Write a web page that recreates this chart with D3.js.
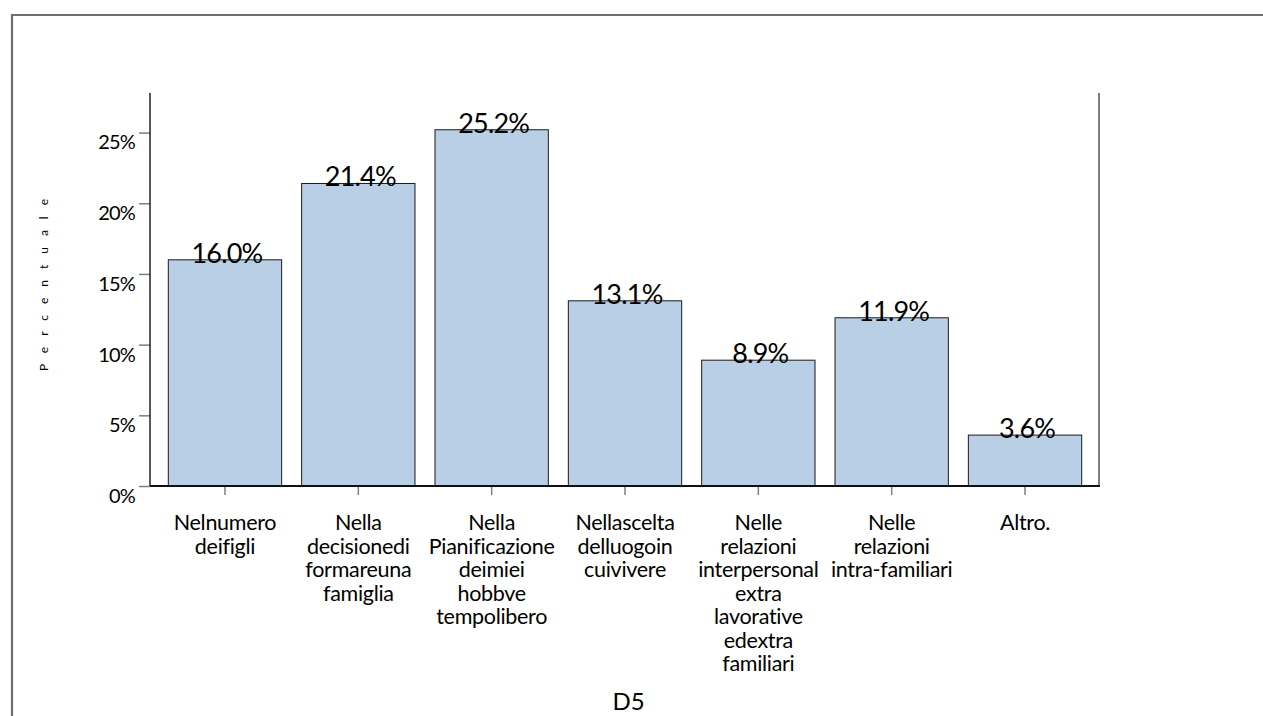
<!DOCTYPE html>
<html>
<head>
<meta charset="utf-8">
<script src="https://cdn.jsdelivr.net/npm/d3@7"></script>
<style>
  html, body { margin: 0; padding: 0; background: #fff; }
  svg { display: block; }
  text { font-family: Lato, "Open Sans", sans-serif; fill: #000; }
</style>
</head>
<body>
<svg id="chart" width="1263" height="716"></svg>
<script>
// D5 – distribution of answers (percent of respondents)
const categories = [
  ["Nelnumero", "deifigli"],
  ["Nella", "decisionedi", "formareuna", "famiglia"],
  ["Nella", "Pianificazione", "deimiei", "hobbve", "tempolibero"],
  ["Nellascelta", "delluogoin", "cuivivere"],
  ["Nelle", "relazioni", "interpersonal", "extra", "lavorative", "edextra", "familiari"],
  ["Nelle", "relazioni", "intra-familiari"],
  ["Altro."]
];
const values = [16.0, 21.4, 25.2, 13.1, 8.9, 11.9, 3.6];
const yTicks = [0, 5, 10, 15, 20, 25];
const yMax = 27.8;
const xTitle = "D5";
const yTitle = "Percentuale";

const svg = d3.select("#chart");

// outer chart frame (left and top edges)
svg.append("path")
  .attr("d", "M12,716 V15 H1263")
  .attr("fill", "none")
  .attr("stroke", "#6e6e6e")
  .attr("stroke-width", 2.2);

const plot = { left: 150, right: 1099, top: 93, bottom: 486 };

const x = d3.scaleBand()
  .domain(d3.range(categories.length))
  .range([158.3, 1091.7])
  .paddingInner(0.15)
  .paddingOuter(0.075);

const y = d3.scaleLinear()
  .domain([0, yMax])
  .range([plot.bottom, plot.top]);

// bars
svg.append("g").selectAll("rect")
  .data(values)
  .join("rect")
  .attr("x", (d, i) => x(i))
  .attr("y", d => y(d))
  .attr("width", x.bandwidth())
  .attr("height", d => y(0) - y(d))
  .attr("fill", "#b9cfe6")
  .attr("stroke", "#1a1a1a")
  .attr("stroke-width", 1);

// right frame line of the plot area
svg.append("line")
  .attr("x1", plot.right).attr("x2", plot.right)
  .attr("y1", plot.top).attr("y2", plot.bottom)
  .attr("stroke", "#555").attr("stroke-width", 1.5);

// y axis
const yAxis = svg.append("g")
  .attr("transform", `translate(${plot.left},0)`)
  .call(d3.axisLeft(y).tickValues(yTicks).tickSize(11).tickFormat(d => d + "%"));
yAxis.select(".domain").remove();
yAxis.selectAll(".tick line").attr("stroke", "#808080").attr("stroke-width", 1.5);
yAxis.selectAll(".tick text")
  .attr("x", -15)
  .attr("dy", "0.82em")
  .style("font-size", "20px")
  .style("letter-spacing", "-0.8px")
  .style("font-family", "Lato, sans-serif");
svg.append("line")
  .attr("x1", plot.left).attr("x2", plot.left)
  .attr("y1", plot.top).attr("y2", plot.bottom)
  .attr("stroke", "#222").attr("stroke-width", 1.5);

// x axis
const xAxis = svg.append("g")
  .attr("transform", `translate(0,${plot.bottom})`)
  .call(d3.axisBottom(x).tickSize(9).tickFormat(""));
xAxis.select(".domain").remove();
xAxis.selectAll(".tick line").attr("stroke", "#808080").attr("stroke-width", 1.5);
svg.append("line")
  .attr("x1", plot.left).attr("x2", plot.right + 1)
  .attr("y1", plot.bottom).attr("y2", plot.bottom)
  .attr("stroke", "#111").attr("stroke-width", 2);

// category labels (multi-line)
const catG = svg.append("g");
categories.forEach((lines, i) => {
  const t = catG.append("text")
    .attr("text-anchor", "middle")
    .attr("transform", `translate(${x(i) + x.bandwidth() / 2},530)`)
    .style("font-size", "21.5px")
    .style("letter-spacing", "-0.3px");
  lines.forEach((ln, j) => {
    t.append("tspan").attr("x", 0).attr("y", j * 23.5).text(ln);
  });
});

// value labels
svg.append("g").selectAll("text")
  .data(values)
  .join("text")
  .attr("x", (d, i) => x(i) + x.bandwidth() / 2 + 2)
  .attr("y", d => y(d) + 3)
  .attr("text-anchor", "middle")
  .style("font-size", "27px")
  .style("letter-spacing", "-0.8px")
  .text(d => d.toFixed(1) + "%");

// axis titles
svg.append("text")
  .attr("x", (plot.left + plot.right) / 2 + 4)
  .attr("y", 710)
  .attr("text-anchor", "middle")
  .style("font-size", "24px")
  .text(xTitle);

svg.append("text")
  .attr("transform", `translate(48,${(plot.top + plot.bottom) / 2 - 10}) rotate(-90)`)
  .attr("text-anchor", "middle")
  .style("font-size", "12px")
  .style("letter-spacing", "11px")
  .text(yTitle);
</script>
</body>
</html>
